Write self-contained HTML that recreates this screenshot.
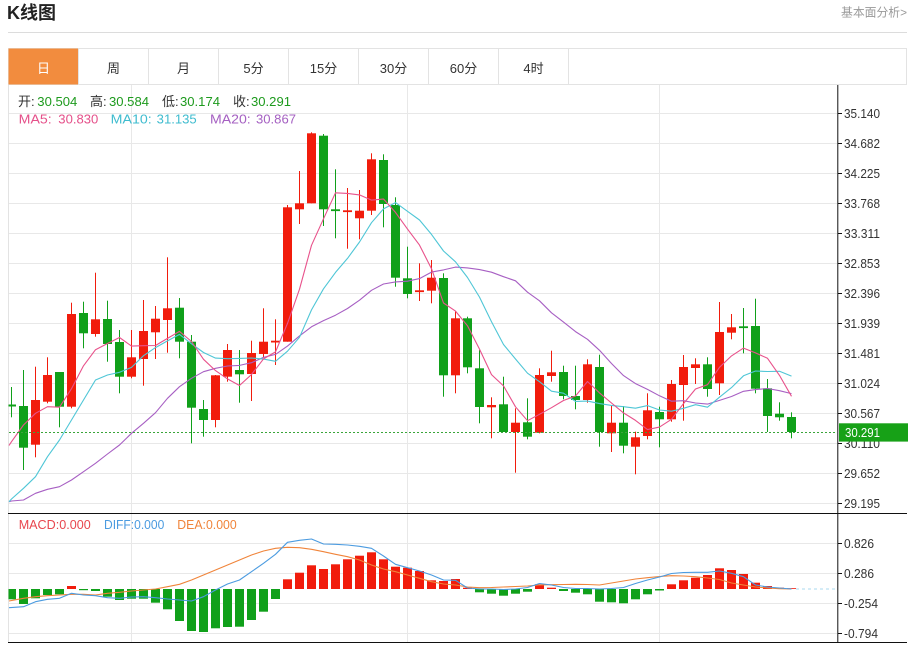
<!DOCTYPE html>
<html>
<head>
<meta charset="utf-8">
<style>
html,body{margin:0;padding:0;background:#fff;}
svg{display:block;}
text{font-family:"Liberation Sans","Noto Sans CJK SC",sans-serif;}
</style>
</head>
<body>
<svg width="909" height="645" viewBox="0 0 909 645" xmlns="http://www.w3.org/2000/svg">
<rect x="0" y="0" width="909" height="645" fill="#fff"/>
<!-- header -->
<text x="7" y="19" font-size="18" font-weight="bold" fill="#222">K线图</text>
<text x="841" y="16.5" font-size="12" fill="#999" textLength="66" lengthAdjust="spacingAndGlyphs">基本面分析&gt;</text>
<line x1="8" y1="32.5" x2="907" y2="32.5" stroke="#dcdcdc"/>

<!-- tabs -->
<rect x="8.5" y="48.5" width="898" height="36" fill="#fff" stroke="#e3e3e3"/>
<rect x="8.5" y="48.5" width="70" height="36" fill="#f28c3e"/>
<g stroke="#e3e3e3">
<line x1="78.5" y1="48.5" x2="78.5" y2="84.5"/>
<line x1="148.5" y1="48.5" x2="148.5" y2="84.5"/>
<line x1="218.5" y1="48.5" x2="218.5" y2="84.5"/>
<line x1="288.5" y1="48.5" x2="288.5" y2="84.5"/>
<line x1="358.5" y1="48.5" x2="358.5" y2="84.5"/>
<line x1="428.5" y1="48.5" x2="428.5" y2="84.5"/>
<line x1="498.5" y1="48.5" x2="498.5" y2="84.5"/>
<line x1="568.5" y1="48.5" x2="568.5" y2="84.5"/>
</g>
<g font-size="13" text-anchor="middle" fill="#333">
<text x="43.5" y="73" fill="#fff">日</text>
<text x="113.5" y="73">周</text>
<text x="183.5" y="73">月</text>
<text x="253.5" y="73">5分</text>
<text x="323.5" y="73">15分</text>
<text x="393.5" y="73">30分</text>
<text x="463.5" y="73">60分</text>
<text x="533.5" y="73">4时</text>
</g>

<!-- frame & grid -->
<line x1="8.5" y1="84.5" x2="8.5" y2="643" stroke="#e3e3e3"/>
<g stroke="#e8e8e8">
<line x1="131.5" y1="85" x2="131.5" y2="643"/>
<line x1="407.5" y1="85" x2="407.5" y2="643"/>
<line x1="659.5" y1="85" x2="659.5" y2="643"/>
<line x1="9" y1="113.5" x2="837" y2="113.5"/>
<line x1="9" y1="143.5" x2="837" y2="143.5"/>
<line x1="9" y1="173.5" x2="837" y2="173.5"/>
<line x1="9" y1="203.5" x2="837" y2="203.5"/>
<line x1="9" y1="233.5" x2="837" y2="233.5"/>
<line x1="9" y1="263.5" x2="837" y2="263.5"/>
<line x1="9" y1="293.5" x2="837" y2="293.5"/>
<line x1="9" y1="323.5" x2="837" y2="323.5"/>
<line x1="9" y1="353.5" x2="837" y2="353.5"/>
<line x1="9" y1="383.5" x2="837" y2="383.5"/>
<line x1="9" y1="413.5" x2="837" y2="413.5"/>
<line x1="9" y1="443.5" x2="837" y2="443.5"/>
<line x1="9" y1="473.5" x2="837" y2="473.5"/>
<line x1="9" y1="503.5" x2="837" y2="503.5"/>
<line x1="9" y1="543.5" x2="837" y2="543.5"/>
<line x1="9" y1="573.5" x2="837" y2="573.5"/>
<line x1="9" y1="603.5" x2="837" y2="603.5"/>
<line x1="9" y1="633.5" x2="837" y2="633.5"/>
</g>

<!-- info text -->
<g font-size="13">
<text x="18" y="106" fill="#333">开:</text>
<text x="37.3" y="106" fill="#1d9a1d" textLength="40" lengthAdjust="spacingAndGlyphs">30.504</text>
<text x="90" y="106" fill="#333">高:</text>
<text x="109" y="106" fill="#1d9a1d" textLength="40" lengthAdjust="spacingAndGlyphs">30.584</text>
<text x="162" y="106" fill="#333">低:</text>
<text x="180" y="106" fill="#1d9a1d" textLength="40" lengthAdjust="spacingAndGlyphs">30.174</text>
<text x="233" y="106" fill="#333">收:</text>
<text x="251" y="106" fill="#1d9a1d" textLength="40" lengthAdjust="spacingAndGlyphs">30.291</text>
<text x="18.7" y="123.5" fill="#e5508a" textLength="33" lengthAdjust="spacingAndGlyphs">MA5:</text>
<text x="58.3" y="123.5" fill="#e5508a" textLength="40" lengthAdjust="spacingAndGlyphs">30.830</text>
<text x="110.7" y="123.5" fill="#3fbccf" textLength="41" lengthAdjust="spacingAndGlyphs">MA10:</text>
<text x="156.7" y="123.5" fill="#3fbccf" textLength="40" lengthAdjust="spacingAndGlyphs">31.135</text>
<text x="210" y="123.5" fill="#a560c2" textLength="40.7" lengthAdjust="spacingAndGlyphs">MA20:</text>
<text x="256" y="123.5" fill="#a560c2" textLength="40" lengthAdjust="spacingAndGlyphs">30.867</text>
</g>
<g font-size="13">
<text x="18.7" y="529" fill="#e8464e" textLength="72" lengthAdjust="spacingAndGlyphs">MACD:0.000</text>
<text x="104" y="529" fill="#4b9be0" textLength="60.3" lengthAdjust="spacingAndGlyphs">DIFF:0.000</text>
<text x="177.3" y="529" fill="#f0843a" textLength="59.4" lengthAdjust="spacingAndGlyphs">DEA:0.000</text>
</g>

<!-- candles -->
<g fill="#f11c0c">
<rect x="35" y="366.7" width="1" height="90.6"/><rect x="31" y="400" width="9" height="44.7"/>
<rect x="47" y="357.3" width="1" height="46"/><rect x="43" y="375" width="9" height="26.7"/>
<rect x="71" y="302.7" width="1" height="105.6"/><rect x="67" y="314" width="9" height="92.7"/>
<rect x="95" y="272.7" width="1" height="64"/><rect x="91" y="319.3" width="9" height="14.7"/>
<rect x="131" y="330" width="1" height="48.3"/><rect x="127" y="357.3" width="9" height="19.4"/>
<rect x="143" y="300" width="1" height="85.7"/><rect x="139" y="331" width="9" height="28"/>
<rect x="155" y="306" width="1" height="53"/><rect x="151" y="318.7" width="9" height="13.6"/>
<rect x="167" y="257.3" width="1" height="95.4"/><rect x="163" y="308.3" width="9" height="11.7"/>
<rect x="215" y="375" width="1" height="52.3"/><rect x="211" y="375.3" width="9" height="44.7"/>
<rect x="227" y="344" width="1" height="37.7"/><rect x="223" y="350" width="9" height="26.7"/>
<rect x="251" y="340.7" width="1" height="60.3"/><rect x="247" y="353" width="9" height="21"/>
<rect x="263" y="308.3" width="1" height="49"/><rect x="259" y="341.7" width="9" height="12.3"/>
<rect x="275" y="319.3" width="1" height="45.7"/><rect x="271" y="340.7" width="9" height="1.8"/>
<rect x="287" y="205" width="1" height="136.7"/><rect x="283" y="207.3" width="9" height="134.4"/>
<rect x="299" y="171" width="1" height="53"/><rect x="295" y="203.3" width="9" height="6"/>
<rect x="311" y="132.3" width="1" height="71"/><rect x="307" y="133.3" width="9" height="70"/>
<rect x="347" y="188" width="1" height="60.7"/><rect x="343" y="210.3" width="9" height="1.8"/>
<rect x="359" y="190" width="1" height="49.3"/><rect x="355" y="210.7" width="9" height="7.6"/>
<rect x="371" y="153.3" width="1" height="61.7"/><rect x="367" y="159.3" width="9" height="51.4"/>
<rect x="419" y="263.3" width="1" height="37.7"/><rect x="415" y="290.3" width="9" height="1.8"/>
<rect x="431" y="260" width="1" height="43.3"/><rect x="427" y="277.7" width="9" height="13"/>
<rect x="455" y="311" width="1" height="82.3"/><rect x="451" y="318.3" width="9" height="57"/>
<rect x="491" y="397.3" width="1" height="41"/><rect x="487" y="405" width="9" height="2.3"/>
<rect x="515" y="408.3" width="1" height="64.4"/><rect x="511" y="422.7" width="9" height="9.3"/>
<rect x="539" y="368.3" width="1" height="65"/><rect x="535" y="375" width="9" height="57.7"/>
<rect x="551" y="350.7" width="1" height="31"/><rect x="547" y="372.3" width="9" height="3.7"/>
<rect x="587" y="359.3" width="1" height="43.4"/><rect x="583" y="364.3" width="9" height="35.7"/>
<rect x="611" y="406" width="1" height="46"/><rect x="607" y="422.7" width="9" height="10.6"/>
<rect x="635" y="431.7" width="1" height="42.6"/><rect x="631" y="437.3" width="9" height="9.4"/>
<rect x="647" y="393.3" width="1" height="46"/><rect x="643" y="410.3" width="9" height="25.7"/>
<rect x="671" y="380" width="1" height="41.7"/><rect x="667" y="384" width="9" height="35.3"/>
<rect x="683" y="355" width="1" height="65.7"/><rect x="679" y="367" width="9" height="18"/>
<rect x="695" y="358.3" width="1" height="25.7"/><rect x="691" y="364.3" width="9" height="3.7"/>
<rect x="719" y="302" width="1" height="93"/><rect x="715" y="332" width="9" height="51.3"/>
<rect x="731" y="314" width="1" height="25.3"/><rect x="727" y="327.3" width="9" height="5.4"/>
</g>
<g fill="#10a01a">
<rect x="11" y="387" width="1" height="30.3"/><rect x="8.5" y="404.5" width="7.5" height="2"/>
<rect x="23" y="370" width="1" height="100"/><rect x="19" y="406" width="9" height="41.7"/>
<rect x="59" y="372" width="1" height="55.3"/><rect x="55" y="372" width="9" height="34.7"/>
<rect x="83" y="301.7" width="1" height="46.6"/><rect x="79" y="313" width="9" height="20.3"/>
<rect x="107" y="300.7" width="1" height="61"/><rect x="103" y="319" width="9" height="25"/>
<rect x="119" y="330" width="1" height="63.3"/><rect x="115" y="342" width="9" height="34.7"/>
<rect x="179" y="298" width="1" height="60.3"/><rect x="175" y="307.7" width="9" height="34"/>
<rect x="191" y="335" width="1" height="108.3"/><rect x="187" y="341.7" width="9" height="66"/>
<rect x="203" y="400" width="1" height="36.7"/><rect x="199" y="409" width="9" height="11"/>
<rect x="239" y="350" width="1" height="52.7"/><rect x="235" y="370" width="9" height="4.3"/>
<rect x="323" y="134" width="1" height="92"/><rect x="319" y="135.7" width="9" height="73.6"/>
<rect x="335" y="169.3" width="1" height="69"/><rect x="331" y="209.3" width="9" height="1.8"/>
<rect x="383" y="154.3" width="1" height="73"/><rect x="379" y="160" width="9" height="44"/>
<rect x="395" y="197.3" width="1" height="89.4"/><rect x="391" y="205" width="9" height="72.7"/>
<rect x="407" y="246.7" width="1" height="51.6"/><rect x="403" y="278.3" width="9" height="15.7"/>
<rect x="443" y="273.3" width="1" height="123.4"/><rect x="439" y="278" width="9" height="97.3"/>
<rect x="467" y="316.7" width="1" height="56.6"/><rect x="463" y="318.3" width="9" height="49"/>
<rect x="479" y="350" width="1" height="73.3"/><rect x="475" y="368.3" width="9" height="38.7"/>
<rect x="503" y="376.7" width="1" height="55.3"/><rect x="499" y="404.3" width="9" height="27.7"/>
<rect x="527" y="398.3" width="1" height="41"/><rect x="523" y="422.3" width="9" height="14.4"/>
<rect x="563" y="365.7" width="1" height="33.6"/><rect x="559" y="372" width="9" height="24"/>
<rect x="575" y="365.7" width="1" height="43.6"/><rect x="571" y="396" width="9" height="4"/>
<rect x="599" y="354.7" width="1" height="92"/><rect x="595" y="367" width="9" height="65"/>
<rect x="623" y="406" width="1" height="47.3"/><rect x="619" y="422.7" width="9" height="23"/>
<rect x="659" y="406.7" width="1" height="40.6"/><rect x="655" y="412" width="9" height="7.3"/>
<rect x="707" y="357.3" width="1" height="39.4"/><rect x="703" y="364.3" width="9" height="24.7"/>
<rect x="743" y="308" width="1" height="45.3"/><rect x="739" y="326.3" width="9" height="1.8"/>
<rect x="755" y="298.7" width="1" height="94.6"/><rect x="751" y="326" width="9" height="62.7"/>
<rect x="767" y="379" width="1" height="53"/><rect x="763" y="388.3" width="9" height="27.7"/>
<rect x="779" y="402.3" width="1" height="18.4"/><rect x="775" y="413.7" width="9" height="3.6"/>
<rect x="791" y="412.3" width="1" height="26"/><rect x="787" y="417" width="9" height="15"/>
</g>

<!-- MA lines -->
<g fill="none" stroke-width="1.1" stroke-linejoin="round">
<polyline stroke="#a75fc3" points="9,501.7 11.5,501 23.5,500 35.5,493.3 47.5,489.3 59.5,486.7 71.5,480 83.5,471.7 95.5,463.3 107.5,454 119.5,445 131.5,433.3 143.5,423.3 155.5,412.7 167.5,398.3 179.5,386.7 191.5,378.3 203.5,371.7 215.5,368.3 227.5,366 239.5,365.4 251.5,362.7 263.5,357.4 275.5,354.4 287.5,346.1 299.5,335.9 311.5,326.8 323.5,320.6 335.5,315.2 347.5,308.5 359.5,300.2 371.5,290.3 383.5,284 395.5,281.9 407.5,281.2 419.5,278.6 431.5,272.1 443.5,269.9 455.5,267.1 467.5,267.9 479.5,269.6 491.5,272.2 503.5,276.7 515.5,280.8 527.5,292.2 539.5,300.8 551.5,312.8 563.5,322.1 575.5,331.6 587.5,339.3 599.5,350.3 611.5,363.5 623.5,375.6 635.5,383.6 647.5,389.4 659.5,395.8 671.5,401.2 683.5,400.7 695.5,403 707.5,404.1 719.5,400.4 731.5,396.5 743.5,391.3 755.5,389.6 767.5,388.5 779.5,390.7 791.5,393.6"/>
<polyline stroke="#4fc6d6" points="9,501.7 11.5,499 23.5,488.3 35.5,476.7 47.5,456.7 59.5,440 71.5,420 83.5,400 95.5,380 107.5,375 119.5,372.3 131.5,367.4 143.5,355.7 155.5,347.6 167.5,340.9 179.5,334.4 191.5,343.8 203.5,352.5 215.5,358.1 227.5,358.7 239.5,358.4 251.5,358 263.5,359.1 275.5,361.3 287.5,351.2 299.5,337.3 311.5,309.9 323.5,288.8 335.5,272.4 347.5,258.4 359.5,242 371.5,222.7 383.5,208.9 395.5,202.6 407.5,211.3 419.5,220 431.5,234.4 443.5,251 455.5,261.8 467.5,277.5 479.5,297.1 491.5,321.7 503.5,344.5 515.5,359 527.5,373.2 539.5,381.7 551.5,391.2 563.5,393.2 575.5,401.4 587.5,401.1 599.5,403.6 611.5,405.4 623.5,406.7 635.5,408.2 647.5,405.6 659.5,410 671.5,411.2 683.5,408.3 695.5,404.7 707.5,407.2 719.5,397.2 731.5,387.6 743.5,375.8 755.5,371 767.5,371.5 779.5,371.3 791.5,376.1"/>
<polyline stroke="#e8528b" points="9,445.5 11.5,441.7 23.5,425 35.5,413.3 47.5,406.7 59.5,407.2 71.5,388.7 83.5,365.8 95.5,349.7 107.5,343.5 119.5,337.5 131.5,346.1 143.5,345.7 155.5,345.5 167.5,338.4 179.5,331.4 191.5,341.5 203.5,359.3 215.5,370.6 227.5,378.9 239.5,385.5 251.5,374.5 263.5,358.9 275.5,351.9 287.5,323.4 299.5,289.2 311.5,245.3 323.5,218.8 335.5,192.8 347.5,193.4 359.5,194.9 371.5,200.1 383.5,199 395.5,212.4 407.5,229.1 419.5,245.1 431.5,268.7 443.5,303 455.5,311.1 467.5,325.8 479.5,349.1 491.5,374.6 503.5,385.9 515.5,406.8 527.5,420.7 539.5,414.3 551.5,407.7 563.5,400.5 575.5,396 587.5,381.5 599.5,392.9 611.5,403 623.5,412.9 635.5,420.4 647.5,429.6 659.5,427.1 671.5,419.3 683.5,403.6 695.5,389 707.5,384.7 719.5,367.3 731.5,355.9 743.5,348.1 755.5,352.9 767.5,358.3 779.5,375.4 791.5,396.3"/>
</g>

<!-- current price dotted -->
<line x1="9" y1="432.5" x2="837" y2="432.5" stroke="#3aa53a" stroke-dasharray="2,2"/>

<!-- MACD bars -->
<g fill="#10a01a">
<rect x="8.5" y="589" width="7.5" height="10.3"/>
<rect x="19" y="589" width="9" height="15"/>
<rect x="31" y="589" width="9" height="9.3"/>
<rect x="43" y="589" width="9" height="6"/>
<rect x="55" y="589" width="9" height="5.3"/>
<rect x="79" y="589" width="9" height="1.2"/>
<rect x="91" y="589" width="9" height="2"/>
<rect x="103" y="589" width="9" height="7.7"/>
<rect x="115" y="589" width="9" height="11"/>
<rect x="127" y="589" width="9" height="9.7"/>
<rect x="139" y="589" width="9" height="9.7"/>
<rect x="151" y="589" width="9" height="13.7"/>
<rect x="163" y="589" width="9" height="20.3"/>
<rect x="175" y="589" width="9" height="32"/>
<rect x="187" y="589" width="9" height="42"/>
<rect x="199" y="589" width="9" height="43"/>
<rect x="211" y="589" width="9" height="39.3"/>
<rect x="223" y="589" width="9" height="38"/>
<rect x="235" y="589" width="9" height="37.7"/>
<rect x="247" y="589" width="9" height="31"/>
<rect x="259" y="589" width="9" height="22.7"/>
<rect x="271" y="589" width="9" height="10"/>
<rect x="475" y="589" width="9" height="3.3"/>
<rect x="487" y="589" width="9" height="4.7"/>
<rect x="499" y="589" width="9" height="6.7"/>
<rect x="511" y="589" width="9" height="4.7"/>
<rect x="523" y="589" width="9" height="2.7"/>
<rect x="559" y="589" width="9" height="2"/>
<rect x="571" y="589" width="9" height="3.7"/>
<rect x="583" y="589" width="9" height="5.3"/>
<rect x="595" y="589" width="9" height="12.7"/>
<rect x="607" y="589" width="9" height="13.3"/>
<rect x="619" y="589" width="9" height="14.3"/>
<rect x="631" y="589" width="9" height="10.3"/>
<rect x="643" y="589" width="9" height="5.3"/>
<rect x="655" y="589" width="9" height="1.5"/>
</g>
<g fill="#f11c0c">
<rect x="67" y="586" width="9" height="3"/>
<rect x="283" y="579.3" width="9" height="9.7"/>
<rect x="295" y="572.7" width="9" height="16.3"/>
<rect x="307" y="565.3" width="9" height="23.7"/>
<rect x="319" y="569" width="9" height="20"/>
<rect x="331" y="564.3" width="9" height="24.7"/>
<rect x="343" y="559.3" width="9" height="29.7"/>
<rect x="355" y="555.7" width="9" height="33.3"/>
<rect x="367" y="552.3" width="9" height="36.7"/>
<rect x="379" y="559.3" width="9" height="29.7"/>
<rect x="391" y="566.7" width="9" height="22.3"/>
<rect x="403" y="567.7" width="9" height="21.3"/>
<rect x="415" y="571" width="9" height="18"/>
<rect x="427" y="580.3" width="9" height="8.7"/>
<rect x="439" y="581" width="9" height="8"/>
<rect x="451" y="579" width="9" height="10"/>
<rect x="463" y="587.7" width="9" height="1.3"/>
<rect x="535" y="584.3" width="9" height="4.7"/>
<rect x="547" y="587.7" width="9" height="1.3"/>
<rect x="667" y="584.3" width="9" height="4.7"/>
<rect x="679" y="580.3" width="9" height="8.7"/>
<rect x="691" y="577.7" width="9" height="11.3"/>
<rect x="703" y="575" width="9" height="14"/>
<rect x="715" y="568.3" width="9" height="20.7"/>
<rect x="727" y="570" width="9" height="19"/>
<rect x="739" y="574" width="9" height="15"/>
<rect x="751" y="582.7" width="9" height="6.3"/>
<rect x="763" y="586" width="9" height="3"/>
<rect x="775" y="587.7" width="9" height="1.3"/>
<rect x="787" y="588.2" width="9" height="0.8"/>
</g>
<line x1="796" y1="589" x2="836" y2="589" stroke="#a9d8ef" stroke-dasharray="3,3"/>
<g fill="none" stroke-width="1.1" stroke-linejoin="round">
<polyline stroke="#f0843a" points="9,601 23.5,598.3 35.5,596.7 47.5,595.7 59.5,595 71.5,594.3 83.5,594.3 95.5,595 107.5,593.3 119.5,592.3 131.5,591 143.5,590 155.5,589 167.5,586.7 179.5,584.3 191.5,580 203.5,575 215.5,570 227.5,565 239.5,560 251.5,555 263.5,551 275.5,548.3 287.5,547.3 299.5,547.7 311.5,549.3 323.5,551.7 335.5,554.3 347.5,556.7 359.5,560 371.5,565 383.5,569 395.5,571.7 407.5,575 419.5,578.3 431.5,581.7 443.5,584 455.5,585 467.5,587 479.5,587.7 491.5,587.5 503.5,587 515.5,586.5 527.5,586 539.5,585 551.5,584.7 563.5,584.5 575.5,584.3 587.5,584.5 599.5,585 611.5,583 623.5,581 635.5,579 647.5,577.7 659.5,576.5 671.5,575.7 683.5,576 695.5,576.7 707.5,578 719.5,579.5 731.5,583 743.5,585 755.5,587 767.5,588 779.5,588.7 791.5,589"/>
<polyline stroke="#4b9be0" points="9,607.7 23.5,606.7 35.5,601.7 47.5,599.3 59.5,598.3 71.5,593.3 83.5,595 95.5,595.7 107.5,597.7 119.5,598.3 131.5,597 143.5,596.7 155.5,597.7 167.5,599 179.5,600 191.5,601 203.5,596.7 215.5,590 227.5,584 239.5,580 251.5,571.7 263.5,563.3 275.5,554.3 287.5,542.3 299.5,540.3 311.5,539 323.5,544 335.5,544.3 347.5,545 359.5,546.3 371.5,548.3 383.5,556 395.5,564.3 407.5,567.7 419.5,571 431.5,575 443.5,580 455.5,580.3 467.5,588 479.5,589 491.5,589 503.5,589.5 515.5,589 527.5,587.5 539.5,583.5 551.5,585 563.5,587.5 575.5,588.5 587.5,588.5 599.5,589 611.5,588.5 623.5,587.5 635.5,583.5 647.5,580 659.5,577 671.5,573.5 683.5,572.5 695.5,572.3 707.5,572.3 719.5,571 731.5,573.3 743.5,576.7 755.5,585 767.5,587 779.5,588 791.5,589"/>
</g>

<!-- axes -->
<line x1="8" y1="513.5" x2="907" y2="513.5" stroke="#111"/>
<line x1="8" y1="642.5" x2="907" y2="642.5" stroke="#111"/>
<line x1="837.8" y1="85" x2="837.8" y2="643" stroke="#111"/>
<g stroke="#111">
<line x1="838" y1="113.5" x2="842" y2="113.5"/>
<line x1="838" y1="143.5" x2="842" y2="143.5"/>
<line x1="838" y1="173.5" x2="842" y2="173.5"/>
<line x1="838" y1="203.5" x2="842" y2="203.5"/>
<line x1="838" y1="233.5" x2="842" y2="233.5"/>
<line x1="838" y1="263.5" x2="842" y2="263.5"/>
<line x1="838" y1="293.5" x2="842" y2="293.5"/>
<line x1="838" y1="323.5" x2="842" y2="323.5"/>
<line x1="838" y1="353.5" x2="842" y2="353.5"/>
<line x1="838" y1="383.5" x2="842" y2="383.5"/>
<line x1="838" y1="413.5" x2="842" y2="413.5"/>
<line x1="838" y1="443.5" x2="842" y2="443.5"/>
<line x1="838" y1="473.5" x2="842" y2="473.5"/>
<line x1="838" y1="503.5" x2="842" y2="503.5"/>
<line x1="838" y1="543.5" x2="842" y2="543.5"/>
<line x1="838" y1="573.5" x2="842" y2="573.5"/>
<line x1="838" y1="603.5" x2="842" y2="603.5"/>
<line x1="838" y1="633.5" x2="842" y2="633.5"/>
</g>
<g font-size="12.5" fill="#333">
<text x="844" y="118" textLength="36" lengthAdjust="spacingAndGlyphs">35.140</text>
<text x="844" y="148" textLength="36" lengthAdjust="spacingAndGlyphs">34.682</text>
<text x="844" y="178" textLength="36" lengthAdjust="spacingAndGlyphs">34.225</text>
<text x="844" y="208" textLength="36" lengthAdjust="spacingAndGlyphs">33.768</text>
<text x="844" y="238" textLength="36" lengthAdjust="spacingAndGlyphs">33.311</text>
<text x="844" y="268" textLength="36" lengthAdjust="spacingAndGlyphs">32.853</text>
<text x="844" y="298" textLength="36" lengthAdjust="spacingAndGlyphs">32.396</text>
<text x="844" y="328" textLength="36" lengthAdjust="spacingAndGlyphs">31.939</text>
<text x="844" y="358" textLength="36" lengthAdjust="spacingAndGlyphs">31.481</text>
<text x="844" y="388" textLength="36" lengthAdjust="spacingAndGlyphs">31.024</text>
<text x="844" y="418" textLength="36" lengthAdjust="spacingAndGlyphs">30.567</text>
<text x="844" y="448" textLength="36" lengthAdjust="spacingAndGlyphs">30.110</text>
<text x="844" y="478" textLength="36" lengthAdjust="spacingAndGlyphs">29.652</text>
<text x="844" y="508" textLength="36" lengthAdjust="spacingAndGlyphs">29.195</text>
<text x="844" y="548" textLength="30" lengthAdjust="spacingAndGlyphs">0.826</text>
<text x="844" y="578" textLength="30" lengthAdjust="spacingAndGlyphs">0.286</text>
<text x="844" y="608" textLength="34" lengthAdjust="spacingAndGlyphs">-0.254</text>
<text x="844" y="638" textLength="34" lengthAdjust="spacingAndGlyphs">-0.794</text>
</g>
<rect x="839" y="423.3" width="69" height="18.3" fill="#17a117"/>
<text x="845" y="437" font-size="13" fill="#fff" textLength="35" lengthAdjust="spacingAndGlyphs">30.291</text>
</svg>
</body>
</html>
